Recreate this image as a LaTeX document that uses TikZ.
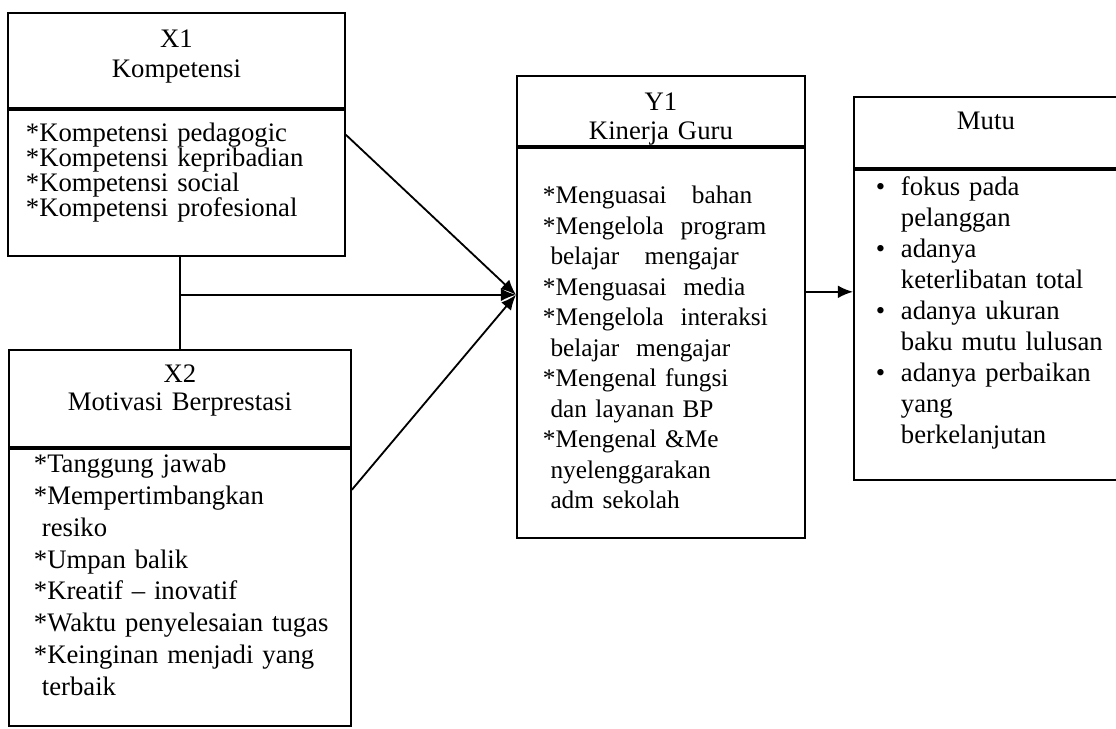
\documentclass[tikz,border=0pt]{standalone}
\usepackage{fontspec}
\setmainfont{Liberation Serif}
\usepackage{tikz}
\usetikzlibrary{positioning, arrows.meta, calc}
\hyphenpenalty=10000
\exhyphenpenalty=10000

\tikzset{
  headbox/.style={draw, line width=1.3pt, anchor=north west, align=center, inner sep=0pt,
    font=\fontsize{19}{21}\selectfont},
  itembox/.style={draw, line width=1.3pt, align=left, inner ysep=0pt},
  link/.style={line width=1.3pt},
  tip/.style={-{Latex[length=0.38cm, width=0.32cm]}}
}
\newcommand{\itm}{*}
\newcommand{\bul}{\makebox[0.625cm][l]{\textbullet}}
\newcommand{\ind}{\hspace*{0.625cm}}
\newcommand{\wrapin}{\hspace*{0.3em}}

\begin{document}
\begin{tikzpicture}
    \clip (0,0) rectangle (27.9,18.2);

    % X1
    \node[headbox, text width=8.425cm, text height=0.875cm, text depth=1.5cm,
      font=\fontsize{19}{21.3}\selectfont] (x1h) at (0.175,17.9) {X1\\Kompetensi};
    \node[itembox, below=0pt of x1h, text width=7.525cm, inner xsep=0.45cm,
      text height=0.8cm, text depth=2.85cm, font=\fontsize{19}{17.8}\selectfont] (x1b) {%
      \itm Kompetensi pedagogic\\
      \itm Kompetensi kepribadian\\
      \itm Kompetensi social\\
      \itm Kompetensi profesional};

    % X2
    \node[headbox, text width=8.55cm, text height=0.825cm, text depth=1.6cm,
      font=\fontsize{19}{19.9}\selectfont] (x2h) at (0.2,9.475) {X2\\Motivasi Berprestasi};
    \node[itembox, below=0pt of x2h, text width=7.3cm, inner xsep=0.625cm,
      text height=0.6cm, text depth=6.325cm, font=\fontsize{19}{22.6}\selectfont] (x2b) {%
      \itm Tanggung jawab\\
      \itm Mempertimbangkan\\
      \wrapin resiko\\
      \itm Umpan balik\\
      \itm Kreatif -- inovatif\\
      \itm Waktu~penyelesaian~tugas\\
      \itm Keinginan menjadi yang\\
      \wrapin terbaik};

    % Y1
    \node[headbox, text width=7.2cm, text height=0.875cm, text depth=0.875cm,
      font=\fontsize{19}{20.6}\selectfont] (y1h) at (12.9,16.325) {Y1\\Kinerja Guru};
    \node[itembox, below=0pt of y1h, text width=5.9cm, inner xsep=0.65cm,
      text height=1.4cm, text depth=8.35cm, font=\fontsize{18}{21.7}\selectfont] (y1b) {%
      \itm Menguasai~~~bahan\\
      \itm Mengelola~~program\\
      \wrapin belajar~~~mengajar\\
      \itm Menguasai~~media\\
      \itm Mengelola~~interaksi\\
      \wrapin belajar~~mengajar\\
      \itm Mengenal~fungsi\\
      \wrapin dan layanan BP\\
      \itm Mengenal \&Me\\
      \wrapin nyelenggarakan\\
      \wrapin adm sekolah};

    % Mutu
    \node[headbox, text width=6.6cm, text height=0.825cm, text depth=0.95cm] (muth) at (21.325,15.8) {Mutu};
    \node[itembox, below=0pt of muth, text width=5.5cm, inner xsep=0.55cm,
      text height=0.65cm, text depth=7.1cm, font=\fontsize{19}{22}\selectfont] (mutb) {%
      \bul fokus~pada\\
      \ind pelanggan\\
      \bul adanya\\
      \ind\mbox{keterlibatan total}\\
      \bul\mbox{adanya ukuran}\\
      \ind\mbox{baku mutu lulusan}\\
      \bul\mbox{adanya perbaikan}\\
      \ind yang\\
      \ind berkelanjutan};

    % connectors
    \coordinate (hit) at ($(y1b.north west)+(0,-3.7)$);
    \coordinate (out) at ($(y1b.north east)+(0,-3.625)$);
    \draw[link] (x1b.south -| x2h.north) -- (x2h.north);
    \draw[link, tip] (x2h.north |- hit) -- (hit);
    \draw[link, tip] ($(x1b.east)+(0,1.2)$) -- (hit);
    \draw[link, tip] ($(x2b.north east)+(0,-1.05)$) -- (hit);
    \draw[link, tip] (out) -- (out -| mutb.west);
\end{tikzpicture}
\end{document}
